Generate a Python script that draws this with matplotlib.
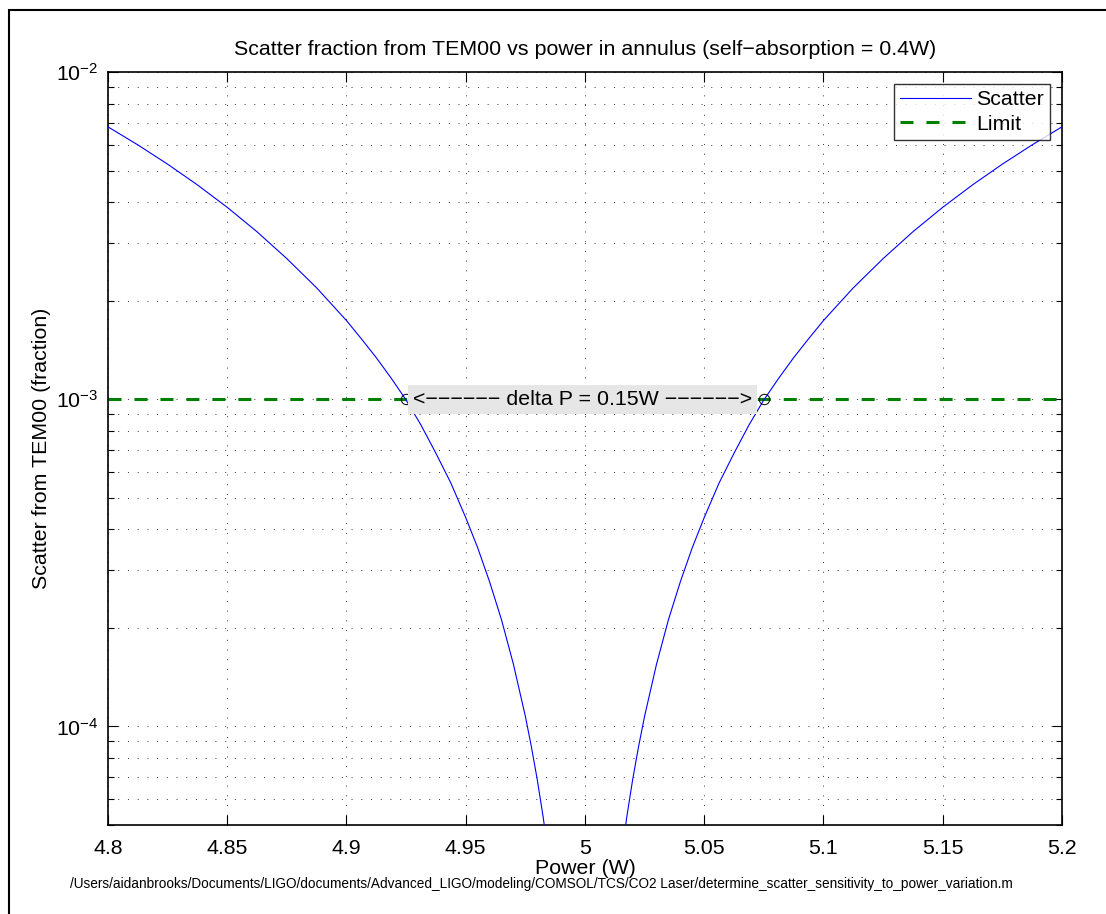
import matplotlib
matplotlib.use("Agg")
import matplotlib.pyplot as plt
from matplotlib.patches import Rectangle
from matplotlib.ticker import LogLocator, NullFormatter

plt.rcParams['font.family'] = ['Liberation Sans', 'DejaVu Sans']

# scatter curve
power = [4.8, 4.8125, 4.825, 4.8375, 4.85, 4.8625, 4.875, 4.8875, 4.9, 4.90625, 4.9125, 4.91875, 4.925,
         4.93125, 4.9375, 4.94375, 4.95, 4.955, 4.96, 4.965, 4.97, 4.975, 4.9775, 4.98, 4.9825, 4.985,
         5.015, 5.0175, 5.02, 5.0225, 5.025, 5.03, 5.035, 5.04, 5.045, 5.05, 5.05625, 5.0625,
         5.06875, 5.075, 5.08125, 5.0875, 5.09375, 5.1, 5.1125, 5.125, 5.1375, 5.15, 5.1625, 5.175, 5.1875, 5.2]
scatter = [6.8e-3, 5.99e-3, 5.23e-3, 4.52e-3, 3.86e-3, 3.25e-3, 2.69e-3, 2.19e-3, 1.74e-3, 1.53e-3, 1.34e-3, 1.16e-3, 9.95e-4,
           8.34e-4, 6.84e-4, 5.55e-4, 4.35e-4, 3.52e-4, 2.77e-4, 2.12e-4, 1.55e-4, 1.075e-4, 8.7e-5, 6.88e-5, 5.27e-5, 3.87e-5,
           3.87e-5, 5.27e-5, 6.88e-5, 8.7e-5, 1.075e-4, 1.55e-4, 2.12e-4, 2.77e-4, 3.52e-4, 4.35e-4, 5.55e-4, 6.84e-4,
           8.34e-4, 9.95e-4, 1.16e-3, 1.34e-3, 1.53e-3, 1.74e-3, 2.19e-3, 2.69e-3, 3.25e-3, 3.86e-3, 4.52e-3, 5.23e-3, 5.99e-3, 6.8e-3]

limit_power = [4.8, 5.2]
limit_value = [1e-3, 1e-3]

crossing_power = [4.925, 5.075]
crossing_value = [1e-3, 1e-3]

x_ticks = [4.8, 4.85, 4.9, 4.95, 5.0, 5.05, 5.1, 5.15, 5.2]
x_tick_labels = ['4.8', '4.85', '4.9', '4.95', '5', '5.05', '5.1', '5.15', '5.2']

title = 'Scatter fraction from TEM00 vs power in annulus (self\u2212absorption = 0.4W)'
annotation = '<\u2212\u2212\u2212\u2212\u2212\u2212 delta P = 0.15W \u2212\u2212\u2212\u2212\u2212\u2212>'
footer = '/Users/aidanbrooks/Documents/LIGO/documents/Advanced_LIGO/modeling/COMSOL/TCS/CO2 Laser/determine_scatter_sensitivity_to_power_variation.m'

fs = 15.4

fig = plt.figure(figsize=(11.06, 9.14), dpi=100)
ax = fig.add_axes([0.0976, 0.0974, 0.8626, 0.8238])

ax.plot(power, scatter, color='blue', linewidth=0.8, label='Scatter', zorder=3)
ax.plot(limit_power, limit_value, color=(0, 0.5, 0), linewidth=2.2, dashes=(4.25, 4.25),
        label='Limit', zorder=2)
ax.plot(crossing_power, crossing_value, 'o', markersize=7.5, markerfacecolor='none',
        markeredgecolor='black', markeredgewidth=0.7, zorder=4)

ax.text(crossing_power[0] + 0.0027, 1e-3, annotation, fontsize=fs, va='center', ha='left',
        bbox=dict(facecolor=(0.9, 0.9, 0.9), edgecolor='none', pad=3.5), zorder=5)

ax.set_yscale('log')
ax.set_xlim(4.8, 5.2)
ax.set_ylim(5e-5, 1e-2)
ax.set_xticks(x_ticks)
ax.set_xticklabels(x_tick_labels)
ax.yaxis.set_major_locator(LogLocator(base=10, numticks=10))
ax.yaxis.set_minor_locator(LogLocator(base=10, subs=range(2, 10), numticks=20))
ax.yaxis.set_minor_formatter(NullFormatter())

ax.tick_params(which='both', direction='in', top=True, right=True, labelsize=fs)
ax.tick_params(which='major', length=7, width=0.8)
ax.tick_params(which='minor', length=4, width=0.8)
ax.tick_params(axis='x', pad=10)
ax.tick_params(axis='y', pad=7)
for s in ax.spines.values():
    s.set_linewidth(1.2)

ax.grid(True, which='major', axis='both', color='black', linewidth=0.7, linestyle=(0, (1, 9)), alpha=0.8)
ax.grid(True, which='minor', axis='y', color='black', linewidth=0.7, linestyle=(0, (1, 9)), alpha=0.8)

ax.set_title(title, fontsize=fs, pad=12)
ax.set_xlabel('Power (W)', fontsize=fs, labelpad=1)
ax.set_ylabel('Scatter from TEM00 (fraction)', fontsize=fs, labelpad=3)

leg = ax.legend(loc='upper right', fontsize=fs, frameon=True, fancybox=False,
                borderaxespad=0.55, handlelength=3.3, handletextpad=0.25, borderpad=0.3,
                labelspacing=0.25)
leg.get_frame().set_edgecolor('black')
leg.get_frame().set_linewidth(1.0)

fig.text(541 / 1106, 1 - 884 / 914, footer, fontsize=9.8, ha='center', va='center')

# outer frame of the figure window
fig.patches.append(Rectangle((9 / 1106, -0.1), 1.2, 1 - 10 / 914 + 0.1, transform=fig.transFigure,
                             fill=False, edgecolor='black', linewidth=1.5))

fig.savefig('out.png', dpi=100)
